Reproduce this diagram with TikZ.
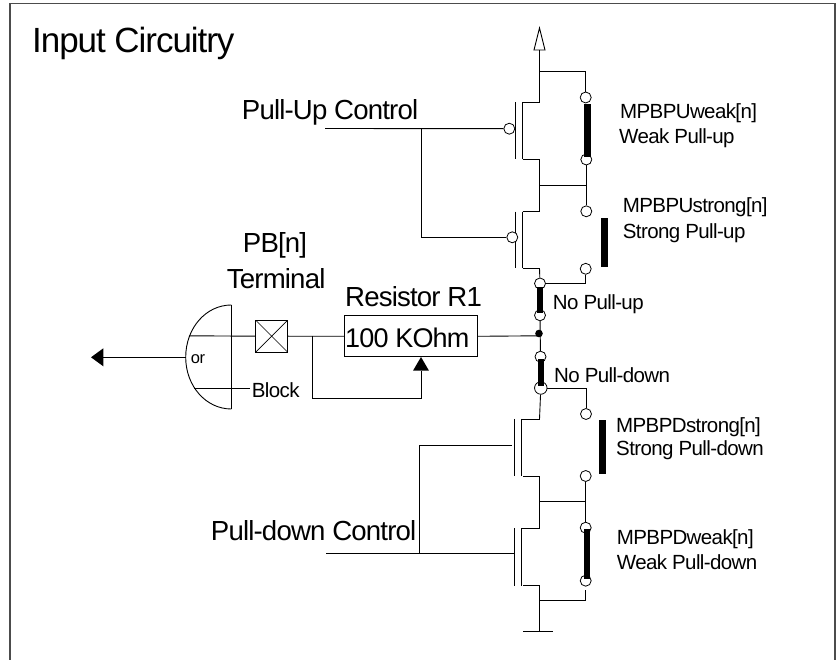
\documentclass[tikz,border=0pt]{standalone}
\usepackage{fontspec}
\setmainfont[LetterSpace=-3]{Liberation Sans}
\tikzset{
	wire/.style={black, line width=0.9pt},
	contact/.style={circle, draw=black, fill=white, line width=0.8pt, minimum size=11pt, inner sep=0pt},
	bigtxt/.style={anchor=base west, inner sep=0pt, font=\fontsize{27.6}{30}\selectfont},
	smalltxt/.style={anchor=base west, inner sep=0pt, font=\fontsize{20.5}{22}\selectfont},
	blade/.style={fill=black}
}
\begin{document}
\begin{tikzpicture}[x=1pt, y=-1pt]
	\useasboundingbox (0, 0) rectangle (836, 660);

	\draw[black!70, line width=1.2pt]	(10, 660) to (10, 3.5) to (835, 3.5) to (835, 660);

	\node[anchor=base west, inner sep=0pt, font=\fontsize{35}{38}\selectfont] (title) at (32, 53) {Input Circuitry};

	\coordinate (vdd) at (539.5, 50);
	\coordinate (up1d) at (539.5, 102.3);
	\coordinate (up1s) at (539.5, 159);
	\coordinate (up2d) at (539.5, 211.5);
	\coordinate (up2s) at (539.5, 268.3);
	\coordinate (dn1d) at (539.5, 419.3);
	\coordinate (dn1s) at (539.5, 476);
	\coordinate (dn2d) at (539.5, 528.3);
	\coordinate (dn2s) at (539.5, 585);
	\coordinate (gnd) at (539.5, 631.7);

	\draw[wire, line join=miter]	(vdd) -- ++(-5.5, 0) -- (539.5, 28) -- (545, 50) -- cycle;
	\draw[wire]	(vdd) to (up1d);

	\draw[wire]	(515.7, 102.5) to (515.7, 159);
	\draw[wire]	(522.7, 102.5) to (522.7, 159);
	\draw[wire]	(522.7, 102.3) to (up1d);
	\draw[wire]	(522.7, 159) to (up1s) to (up2d);
	\draw[wire]	(515.7, 211.7) to (515.7, 268.5);
	\draw[wire]	(522.7, 211.7) to (522.7, 268.5);
	\draw[wire]	(522.7, 211.5) to (up2d);
	\draw[wire]	(522.7, 268.3) to (up2s);

	\node[contact] (gup1) at (509.3, 128.7) {};
	\node[contact] (gup2) at (512.3, 237.3) {};
	\coordinate (ctlup) at (325, 128.5);
	\coordinate (ctlupt) at (421.7, 128.5);
	\coordinate (ctlupb) at (421.7, 237.3);
	\draw[wire]	(ctlup) to (gup1);
	\draw[wire]	(ctlupt) to (ctlupb) to (gup2);

	\node[contact] (swup1a) at (585.7, 97.5) {};
	\node[contact] (swup1b) at (586.3, 159.5) {};
	\node[contact] (swup2a) at (586.3, 211.3) {};
	\node[contact] (swup2b) at (585.7, 268.8) {};
	\coordinate (sup) at (539.5, 71.5);
	\coordinate (mid) at (539.5, 185.3);
	\draw[wire]	(sup) -| (swup1a);
	\draw[wire]	(swup1b) to (swup2a);
	\draw[wire]	(mid) to (586.3, 185.3);

	\node[contact] (noup1) at (540, 283.5) {};
	\node[contact] (noup2) at (540, 315.3) {};
	\node[contact] (nodn1) at (540.5, 356.7) {};
	\node[contact, minimum size=12.5pt] (nodn2) at (540.8, 388) {};
	\draw[wire]	(up2s) to (noup1);
	\draw[wire]	(noup1.east) -| (swup2b);
	\draw[wire]	(noup2) to (nodn1);
	\fill[black]	(539, 333.5) circle (3.8pt);

	\node[contact] (swdn1a) at (586, 414) {};
	\node[contact] (swdn1b) at (585.7, 476) {};
	\node[contact] (swdn2a) at (585.7, 527.7) {};
	\node[contact] (swdn2b) at (585.7, 580.7) {};
	\coordinate (dmid) at (539.5, 501.7);
	\coordinate (dlow) at (585.7, 600.7);
	\coordinate (dopen) at (585.7, 590);
	\draw[wire]	(nodn2.east) -| (swdn1a);
	\draw[wire]	(swdn1b) to (swdn2a);
	\draw[wire]	(dmid) to (585.7, 501.7);
	\draw[wire]	(dopen) to (dlow) to (539, 600.7);

	\draw[wire]	(nodn2) to (dn1d);
	\draw[wire]	(514.7, 419) to (514.7, 476);
	\draw[wire]	(521.3, 419) to (521.3, 476);
	\draw[wire]	(521.3, 419.3) to (dn1d);
	\draw[wire]	(523, 476) to (dn1s) to (dn2d);
	\draw[wire]	(514.7, 528.3) to (514.7, 585.7);
	\draw[wire]	(521.3, 528.3) to (521.3, 585.7);
	\draw[wire]	(521.3, 528.3) to (dn2d);
	\draw[wire]	(523, 585) to (dn2s);
	\draw[wire]	(539, 585) to (539, 631.7);
	\draw[wire]	(523.3, 631.7) to (553.3, 631.7);

	\coordinate (ctldnt) at (419.5, 445);
	\coordinate (ctldnb) at (419.5, 553.7);
	\coordinate (ctldn) at (326, 553.7);
	\draw[wire]	(511.7, 445) to (ctldnt) to (ctldnb);
	\draw[wire]	(ctldn) to (514.7, 553.7);

	\fill[blade]	(584, 104) rectangle (590.7, 156.7);
	\fill[blade]	(601.3, 218) rectangle (608, 267);
	\fill[blade]	(536.7, 286.7) rectangle (543.3, 313.3);
	\fill[blade]	(538, 359) rectangle (544.3, 386);
	\fill[blade]	(599.3, 420.3) rectangle (606, 474);
	\fill[blade]	(583.7, 529.3) rectangle (590.3, 578.7);

	\node[draw=black, line width=0.9pt, minimum width=133pt, minimum height=41.3pt, inner sep=0pt] (res) at (410.8, 336.3) {};
	\node[anchor=base west, inner sep=0pt, font=\fontsize{27}{30}\selectfont] (resval) at (345, 347.7) {100 KOhm};
	\node[bigtxt] (restitle) at (345, 306.7) {Resistor R1};
	\node[draw=black, line width=0.8pt, minimum size=32pt, inner sep=0pt, path picture={
		\draw[black, line width=0.7pt] (path picture bounding box.north west) to (path picture bounding box.south east)
			(path picture bounding box.north east) to (path picture bounding box.south west);}] (pad) at (271.7, 336.2) {};
	\node[bigtxt] (padname) at (242.7, 253) {PB[n]};
	\node[bigtxt] (padterm) at (226.7, 288.3) {Terminal};

	\coordinate (orup) at (189, 335.8);
	\coordinate (branch) at (312.7, 335.8);
	\coordinate (fbk) at (312.7, 398.3);
	\coordinate (fbkr) at (421, 398.3);
	\coordinate (rtip) at (421, 357);
	\coordinate (node) at (539, 335.8);
	\coordinate (orout) at (185.7, 357.3);
	\coordinate (outtip) at (91, 357.3);
	\coordinate (orlow) at (194, 388);
	\coordinate (ortop) at (231.3, 305);
	\coordinate (orbot) at (231.3, 409);

	\draw[wire]	(ortop) to (orbot);
	\draw[wire]	(ortop) .. controls (206, 305) and (185.7, 328) .. (orout) .. controls (185.7, 386) and (206, 409) .. (orbot);
	\draw[wire]	(orup) to (pad.west);
	\draw[wire]	(pad.east) to (res.west);
	\draw[wire]	(res.east) to (node);
	\draw[wire]	(branch) to (fbk) to (fbkr) to (421, 370.7);
	\fill[black]	(rtip) -- (429, 370.7) -- (413, 370.7) -- cycle;
	\draw[wire]	(orout) to (103, 357.3);
	\fill[black]	(outtip) -- (103.3, 348.3) -- (103.3, 366.3) -- cycle;
	\draw[wire]	(orlow) to (250, 388);

	\node[anchor=base west, inner sep=0pt, font=\fontsize{16.5}{18}\selectfont] (ortxt) at (190.7, 364) {or};
	\node[smalltxt] (block) at (251.7, 397.3) {Block};

	\node[bigtxt] (upctl) at (241.7, 119.3) {Pull-Up Control};
	\node[bigtxt] (dnctl) at (210.7, 540.7) {Pull-down Control};

	\node[smalltxt] (upw1) at (620, 118.3) {MPBPUweak[n]};
	\node[smalltxt] (upw2) at (619, 144) {Weak Pull-up};
	\node[smalltxt] (ups1) at (622.7, 212.7) {MPBPUstrong[n]};
	\node[smalltxt] (ups2) at (622.7, 238.3) {Strong Pull-up};
	\node[smalltxt] (noupt) at (552.7, 310) {No Pull-up};
	\node[smalltxt] (nodnt) at (554, 382.7) {No Pull-down};
	\node[smalltxt] (dns1) at (616, 432.7) {MPBPDstrong[n]};
	\node[smalltxt] (dns2) at (616, 455) {Strong Pull-down};
	\node[smalltxt] (dnw1) at (616.7, 544) {MPBPDweak[n]};
	\node[smalltxt] (dnw2) at (616.7, 569.3) {Weak Pull-down};
\end{tikzpicture}
\end{document}
